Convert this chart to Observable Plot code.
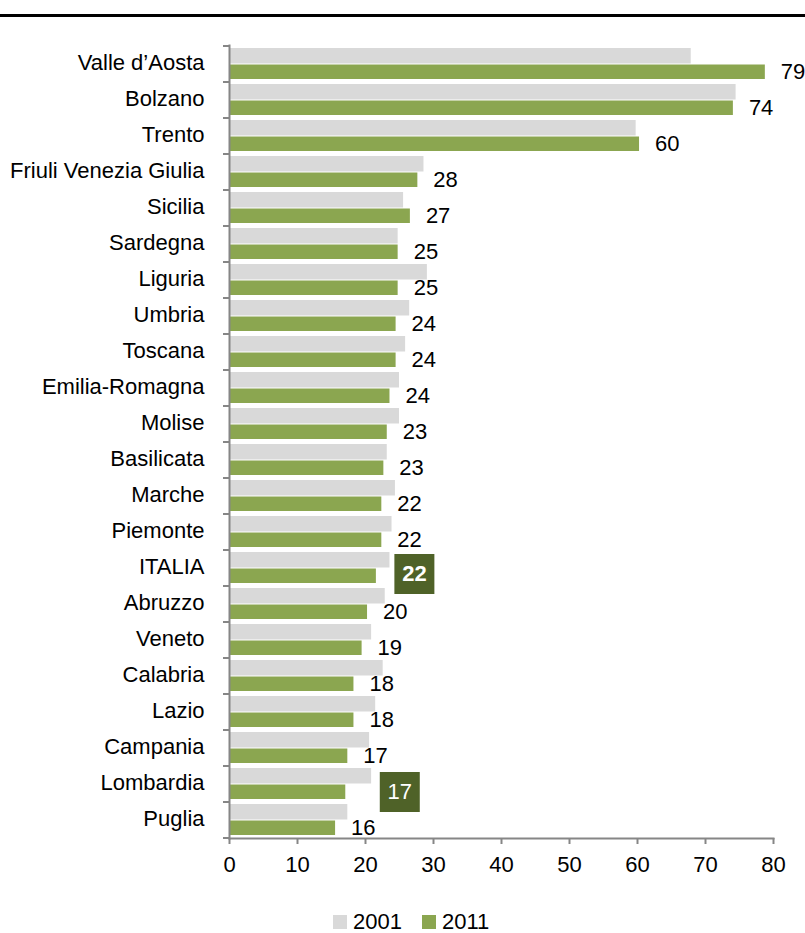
<!DOCTYPE html>
<html>
<head>
<meta charset="utf-8">
<script src="https://cdn.jsdelivr.net/npm/d3@7"></script>
<script src="https://cdn.jsdelivr.net/npm/@observablehq/plot@0.6"></script>
<style>
  html, body { margin: 0; padding: 0; background: #fff; }
  body { width: 805px; height: 933px; position: relative; overflow: hidden;
         font-family: "Liberation Sans", Arial, sans-serif; }
  #topline { position: absolute; left: 0; top: 14px; width: 805px; height: 3px; background: #000; }
  #chart { position: absolute; left: 0; top: 0; }
  #legend { position: absolute; top: 909px; left: 333px; display: flex; align-items: center;
            font-size: 22px; color: #000; }
  .sw { width: 14px; height: 14px; display: inline-block; margin-right: 6px; }
  .item { display: flex; align-items: center; margin-right: 20px; }
</style>
</head>
<body>
<div id="topline"></div>
<div id="chart"></div>
<div id="legend"></div>
<script>
const regions = ["Valle d\u2019Aosta", "Bolzano", "Trento", "Friuli Venezia Giulia", "Sicilia", "Sardegna",
  "Liguria", "Umbria", "Toscana", "Emilia-Romagna", "Molise", "Basilicata", "Marche", "Piemonte",
  "ITALIA", "Abruzzo", "Veneto", "Calabria", "Lazio", "Campania", "Lombardia", "Puglia"];
const v2001 = [67.9, 74.5, 59.8, 28.6, 25.6, 24.8, 29.1, 26.5, 25.9, 25.0, 25.0, 23.2, 24.4, 23.9,
  23.6, 22.9, 20.9, 22.6, 21.5, 20.6, 20.9, 17.4];
const v2011 = [78.8, 74.1, 60.3, 27.7, 26.6, 24.8, 24.8, 24.5, 24.5, 23.6, 23.2, 22.7, 22.4, 22.4,
  21.6, 20.3, 19.5, 18.3, 18.3, 17.4, 17.1, 15.6];
const labels2011 = [79, 74, 60, 28, 27, 25, 25, 24, 24, 24, 23, 23, 22, 22, 22, 20, 19, 18, 18, 17, 17, 16];
const seriesNames = ["2001", "2011"];
const seriesColors = ["#D9D9D9", "#8BA650"];
const xTicks = [0, 10, 20, 30, 40, 50, 60, 70, 80];
const highlightItalia = "ITALIA";
const highlightLombardia = "Lombardia";

const data = regions.map((r, i) => ({region: r, v2001: v2001[i], v2011: v2011[i], label: String(labels2011[i])}));
const regular = data.filter(d => d.region !== highlightItalia && d.region !== highlightLombardia);
const italia = data.filter(d => d.region === highlightItalia);
const lombardia = data.filter(d => d.region === highlightLombardia);

const axisColor = "#868686";
const boxColor = "#4F6228";
const fs = 22;
const boxR = 40 / Math.sqrt(Math.PI);

const chart = Plot.plot({
  width: 805,
  height: 890,
  marginLeft: 229,
  marginRight: 32,
  marginTop: 45,
  marginBottom: 52,
  style: {fontFamily: "'Liberation Sans', Arial, sans-serif", fontSize: fs + "px", color: "#000", background: "transparent"},
  x: {domain: [0, 80], label: null},
  y: {domain: regions, padding: 0, label: null},
  marks: [
    Plot.barX(data, {x: "v2001", y: "region", fill: seriesColors[0], insetTop: 2, insetBottom: 18.5}),
    Plot.barX(data, {x: "v2011", y: "region", fill: seriesColors[1], insetTop: 18.5, insetBottom: 3}),
    Plot.frame({anchor: "left", stroke: axisColor, strokeWidth: 2}),
    Plot.frame({anchor: "bottom", stroke: axisColor, strokeWidth: 2}),
    Plot.axisY({tickSize: 0, tickPadding: 25, fill: "#000", fontSize: fs, label: null, dy: -1.5}),
    Plot.axisX({ticks: xTicks, tickSize: 6, tickPadding: 12, stroke: axisColor, strokeWidth: 2, fill: "#000", fontSize: fs, label: null, tickFormat: d => String(d)}),
    Plot.text(regular, {x: "v2011", y: "region", text: "label", textAnchor: "start", dx: 15.5, dy: 7.5, fill: "#000", fontSize: fs}),
    Plot.dot(italia, {x: "v2011", y: "region", symbol: "square", r: boxR, fill: boxColor, dx: 38, dy: 5.5}),
    Plot.text(italia, {x: "v2011", y: "region", text: "label", dx: 38, dy: 5.5, fill: "#fff", fontWeight: "bold", fontSize: fs}),
    Plot.dot(lombardia, {x: "v2011", y: "region", symbol: "square", r: boxR, fill: boxColor, dx: 54, dy: 7.4}),
    Plot.text(lombardia, {x: "v2011", y: "region", text: "label", dx: 54, dy: 7.4, fill: "#fff", fontSize: fs})
  ]
});

// y-axis ticks at band boundaries, positioned from the library's y scale
const ys = chart.scale("y");
const xs = chart.scale("x");
const x0 = xs.apply(0);
const bounds = regions.map(r => ys.apply(r));
bounds.push(ys.apply(regions[regions.length - 1]) + ys.bandwidth);
const g = d3.select(chart).append("g").attr("stroke", axisColor).attr("stroke-width", 2);
bounds.forEach(y => {
  g.append("line").attr("x1", x0 - 6).attr("x2", x0).attr("y1", y).attr("y2", y);
});

document.getElementById("chart").appendChild(chart);

const legend = document.getElementById("legend");
seriesNames.forEach((n, i) => {
  const it = document.createElement("div");
  it.className = "item";
  const sw = document.createElement("span");
  sw.className = "sw";
  sw.style.background = seriesColors[i];
  it.appendChild(sw);
  it.appendChild(document.createTextNode(n));
  legend.appendChild(it);
});
</script>
</body>
</html>
